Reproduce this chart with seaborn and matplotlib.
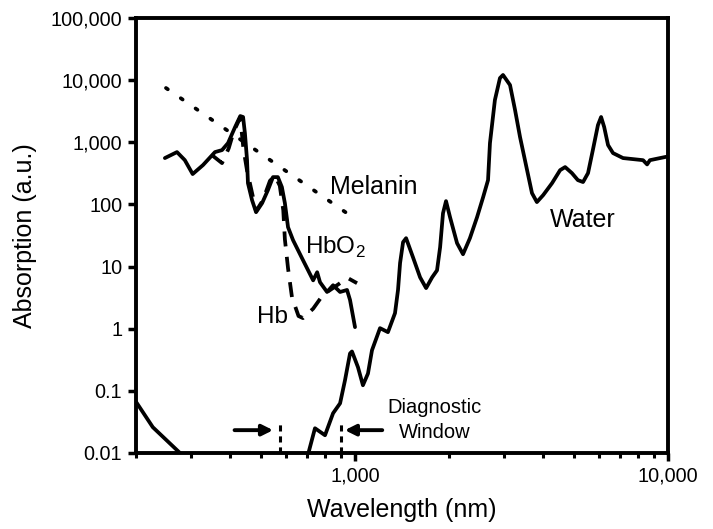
import numpy as np
import pandas as pd
import matplotlib.pyplot as plt
import seaborn as sns

# absorption spectra (wavelength nm, absorption a.u.)
hbo2_nm = [247, 270, 286, 303, 327, 357, 376, 393, 414, 430, 439, 445, 452, 455, 469, 483, 505, 527,
           547, 567, 584, 597, 611, 634, 682, 735, 757, 773, 814, 851, 896, 943, 964, 1000]
hbo2_abs = [557, 695, 516, 308, 430, 695, 748, 970, 1760, 2640, 2550, 1400, 516, 220, 117, 75, 105, 170,
            275, 275, 190, 105, 43, 26.6, 12.7, 6.0, 8.1, 5.6, 3.9, 5.0, 3.9, 4.2, 2.9, 1.06]

hb_nm = [349, 376, 395, 410, 430, 440, 452, 462, 483, 508, 535, 555, 575, 590, 597, 611, 629, 660, 682,
         735, 790, 850, 900, 950, 1015]
hb_abs = [622, 462, 800, 1500, 2500, 800, 350, 215, 78, 117, 240, 290, 200, 81, 27.5, 9.4, 3.2, 1.6, 1.48,
          2.1, 3.5, 4.5, 5.5, 6.5, 5.4]

water_nm = [710, 718, 745, 802, 851, 896, 929, 964, 978, 1022, 1060, 1100, 1133, 1202, 1274, 1342, 1372,
            1393, 1424, 1456, 1531, 1614, 1687, 1763, 1828, 1870, 1910, 1953, 2012, 2118, 2213, 2328,
            2453, 2566, 2660, 2698, 2798, 2904, 2970, 3127, 3245, 3366, 3545, 3675, 3810, 3990, 4260,
            4520, 4690, 4930, 5150, 5350, 5550, 5750, 5970, 6110, 6250, 6430, 6670, 7180, 8320, 8570,
            8750, 9770, 10000]
water_abs = [0.01, 0.0124, 0.025, 0.0193, 0.0436, 0.063, 0.148, 0.40, 0.43, 0.24, 0.123, 0.19, 0.45, 1.02,
             0.88, 1.78, 4.2, 11.4, 24.7, 28.6, 14.2, 6.7, 4.5, 6.7, 8.7, 20.5, 72, 113, 62, 23.8, 15.8,
             28.6, 62, 131, 246, 970, 4790, 10800, 12100, 8340, 3300, 1213, 356, 152, 109, 141, 220, 356,
             399, 319, 246, 229, 319, 748, 1890, 2550, 1760, 902, 670, 557, 515, 440, 515, 578, 590]

uv_nm = [200, 226, 276]
uv_abs = [0.066, 0.026, 0.01]

melanin_nm = [249, 943]
melanin_abs = [7470, 72]

window_edges = [576, 900]
window_top = 0.034
arrow_y = 0.0233

y_ticks = [0.01, 0.1, 1, 10, 100, 1000, 10000, 100000]
y_tick_labels = ["0.01", "0.1", "1", "10", "100", "1,000", "10,000", "100,000"]
x_ticks = [1000, 10000]
x_tick_labels = ["1,000", "10,000"]
x_minor = [200, 300, 400, 500, 600, 700, 800, 900, 2000, 3000, 4000, 5000, 6000, 7000, 8000, 9000]

sns.set_style("ticks")
plt.rcParams['font.family'] = ['Liberation Sans', 'DejaVu Sans']
plt.rcParams['mathtext.fontset'] = 'custom'
plt.rcParams['mathtext.rm'] = 'Liberation Sans'
plt.rcParams['text.color'] = 'black'
plt.rcParams['axes.labelcolor'] = 'black'
plt.rcParams['xtick.color'] = 'black'
plt.rcParams['ytick.color'] = 'black'

fig = plt.figure(figsize=(7.13, 5.29), dpi=100)
ax = fig.add_axes([0.191, 0.1437, 0.746, 0.8223])

lw = 2.7
common = dict(color="black", linewidth=lw, estimator=None, sort=False, ax=ax)
sns.lineplot(x=uv_nm, y=uv_abs, **common)
sns.lineplot(x=water_nm, y=water_abs, solid_joinstyle="round", **common)
sns.lineplot(x=hbo2_nm, y=hbo2_abs, solid_joinstyle="round", **common)
sns.lineplot(x=hb_nm, y=hb_abs, linestyle=(0, (4, 2.8)), **common)
sns.lineplot(x=melanin_nm, y=melanin_abs, linestyle=(0, (0.6, 4.2)), dash_capstyle="round", **common)

# diagnostic window
ax.vlines(window_edges, 0.01, window_top, colors="black", linestyles=(0, (2, 1.6)), linewidth=2.2)
ax.annotate("", xy=(window_edges[0] * 0.97, arrow_y), xytext=(404, arrow_y),
            arrowprops=dict(arrowstyle="-|>", color="black", lw=2.8, mutation_scale=16))
ax.annotate("", xy=(window_edges[1] * 1.01, arrow_y), xytext=(1247, arrow_y),
            arrowprops=dict(arrowstyle="-|>", color="black", lw=2.8, mutation_scale=16))
ax.text(1800, 0.034, "Diagnostic\nWindow", ha="center", va="center", fontsize=14.5, linespacing=1.35)

ax.text(832, 190, "Melanin", ha="left", va="center", fontsize=18)
ax.text(4200, 56, "Water", ha="left", va="center", fontsize=18)
ax.text(692, 20.5, r"HbO$_\mathregular{2}$", ha="left", va="center", fontsize=17.5)
ax.text(486, 1.53, "Hb", ha="left", va="center", fontsize=17.5)

ax.set_xscale("log")
ax.set_yscale("log")
ax.set_xlim(200, 10000)
ax.set_ylim(0.01, 100000)
ax.set_yticks(y_ticks, labels=y_tick_labels)
ax.set_xticks(x_ticks, labels=x_tick_labels)
ax.set_xticks(x_minor, minor=True)
ax.set_yticks([], minor=True)
ax.xaxis.set_minor_formatter(plt.NullFormatter())
ax.tick_params(axis="both", which="major", length=6, width=2.5, labelsize=14.3, pad=4)
ax.tick_params(axis="x", which="minor", length=3.5, width=2.2)

ax.set_xlabel("Wavelength (nm)", fontsize=18, labelpad=9)
ax.set_ylabel("Absorption (a.u.)", fontsize=18, labelpad=10)

for side in ["left", "right", "top", "bottom"]:
    ax.spines[side].set_visible(True)
    ax.spines[side].set_linewidth(2.8)
    ax.spines[side].set_color("black")

fig.savefig("out.png", dpi=100)
